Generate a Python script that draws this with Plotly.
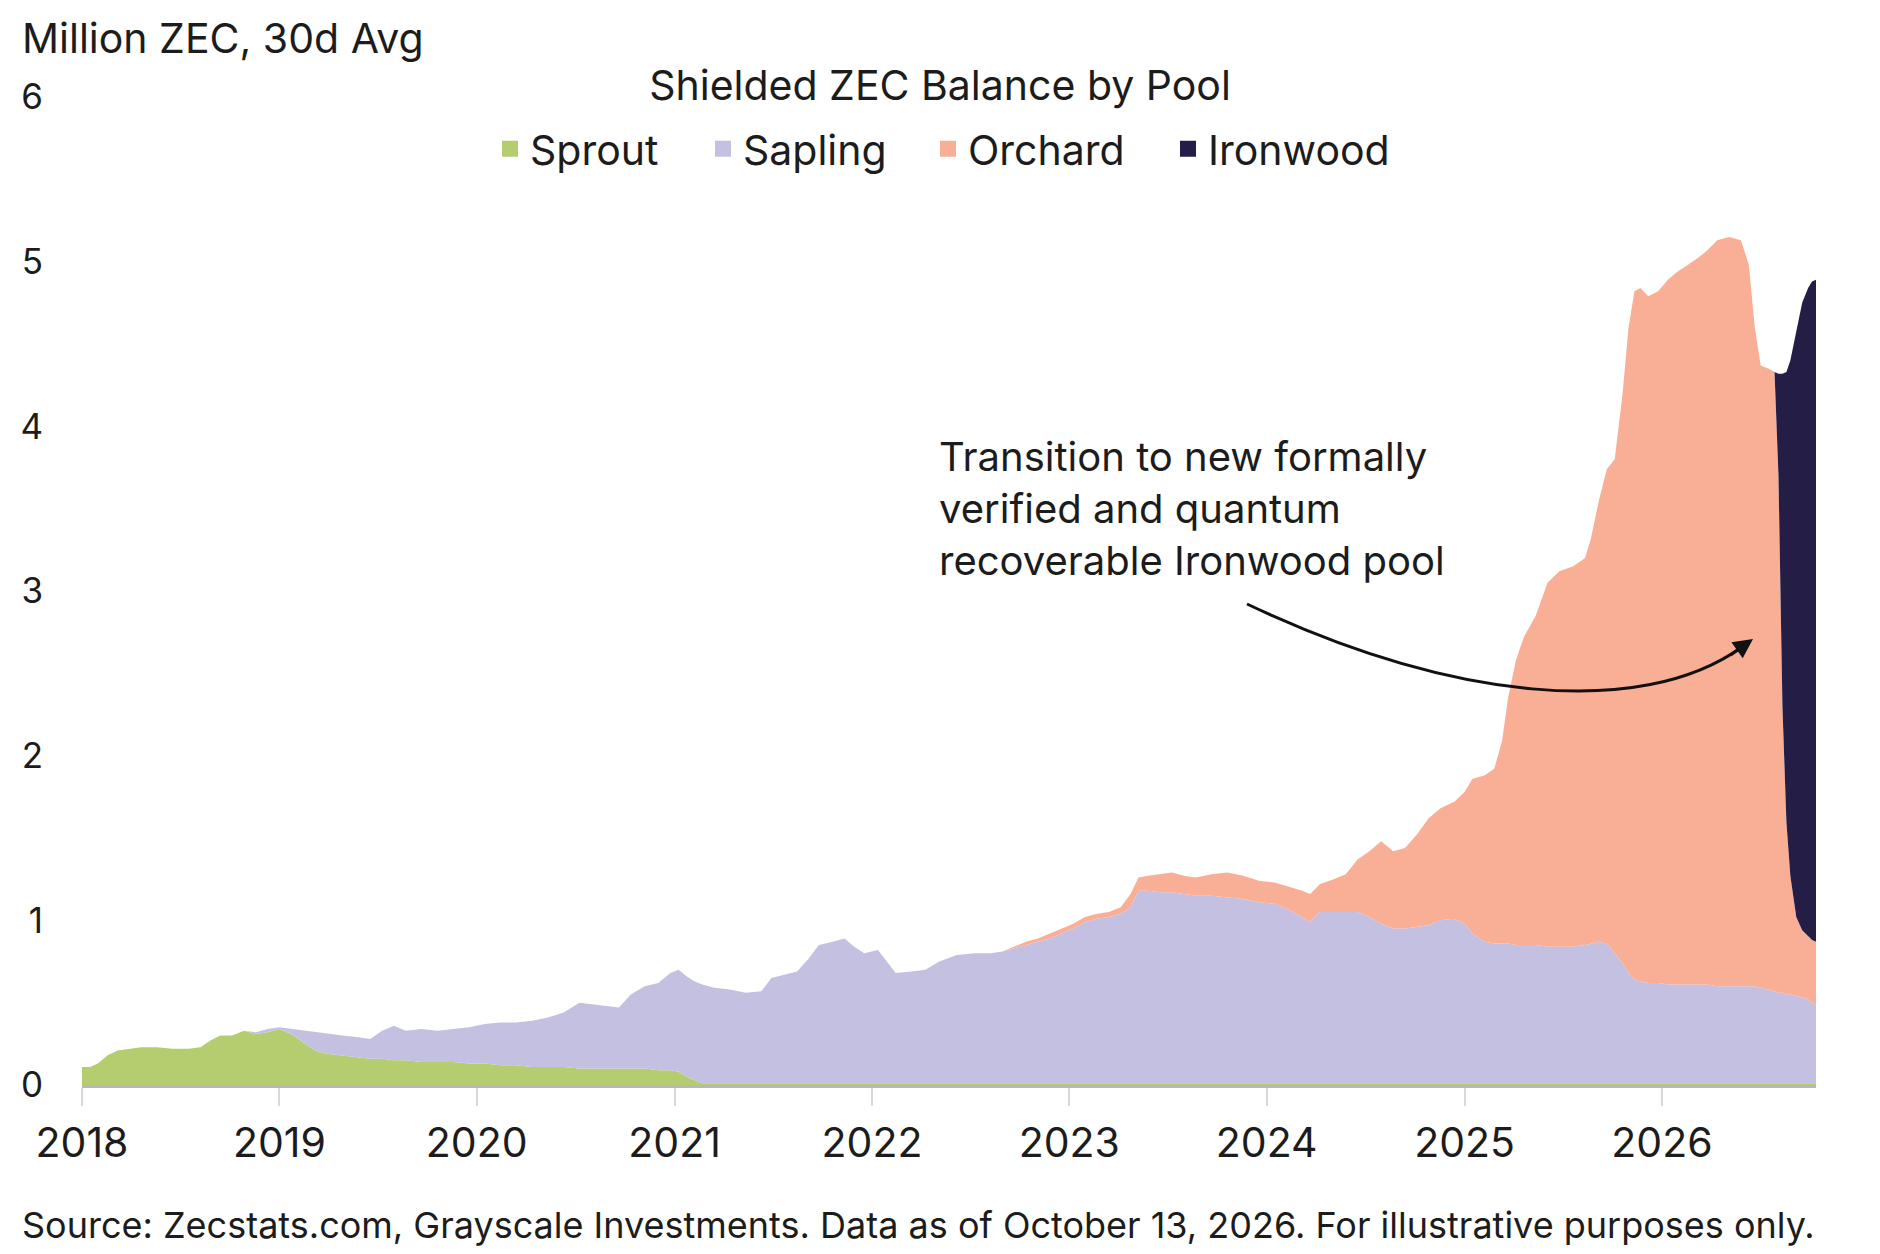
import pandas as pd
import plotly.graph_objects as go

# ---------------- data ----------------
years = [
    2018.00, 2018.04, 2018.08, 2018.13, 2018.18, 2018.23, 2018.30, 2018.38, 2018.46, 2018.54,
    2018.60, 2018.65, 2018.70, 2018.76, 2018.82, 2018.88, 2018.94, 2019.00, 2019.06, 2019.12,
    2019.18, 2019.24, 2019.32, 2019.40, 2019.46, 2019.52, 2019.58, 2019.64, 2019.72, 2019.80,
    2019.88, 2019.96, 2020.04, 2020.12, 2020.20, 2020.28, 2020.36, 2020.44, 2020.52, 2020.58,
    2020.66, 2020.72, 2020.78, 2020.85, 2020.92, 2020.98, 2021.02, 2021.06, 2021.10, 2021.14,
    2021.20, 2021.28, 2021.36, 2021.44, 2021.49, 2021.56, 2021.62, 2021.68, 2021.73, 2021.80,
    2021.86, 2021.91, 2021.96, 2022.03, 2022.07, 2022.12, 2022.20, 2022.27, 2022.34, 2022.43,
    2022.52, 2022.60, 2022.66, 2022.72, 2022.78, 2022.84, 2022.90, 2022.96, 2023.02, 2023.08,
    2023.14, 2023.20, 2023.26, 2023.31, 2023.35, 2023.40, 2023.46, 2023.52, 2023.58, 2023.64,
    2023.72, 2023.80, 2023.88, 2023.96, 2024.04, 2024.12, 2024.18, 2024.22, 2024.27, 2024.34,
    2024.40, 2024.46, 2024.52, 2024.58, 2024.64, 2024.70, 2024.76, 2024.82, 2024.88, 2024.95,
    2025.00, 2025.04, 2025.10, 2025.15, 2025.19, 2025.22, 2025.26, 2025.30, 2025.36, 2025.42,
    2025.48, 2025.55, 2025.61, 2025.64, 2025.68, 2025.72, 2025.76, 2025.80, 2025.83, 2025.86,
    2025.89, 2025.93, 2025.98, 2026.03, 2026.08, 2026.13, 2026.18, 2026.23, 2026.28, 2026.34,
    2026.40, 2026.44, 2026.47, 2026.50, 2026.54, 2026.57, 2026.59, 2026.61, 2026.63, 2026.65,
    2026.68, 2026.71, 2026.74, 2026.76, 2026.78,
]

sprout = [
    0.11, 0.11, 0.13, 0.18, 0.21, 0.22, 0.23, 0.23, 0.22, 0.22,
    0.23, 0.27, 0.30, 0.30, 0.33, 0.31, 0.32, 0.34, 0.31, 0.26,
    0.21, 0.19, 0.18, 0.17, 0.16, 0.16, 0.15, 0.15, 0.14, 0.14,
    0.14, 0.13, 0.13, 0.12, 0.12, 0.11, 0.11, 0.11, 0.10, 0.10,
    0.10, 0.10, 0.10, 0.10, 0.09, 0.09, 0.08, 0.05, 0.03, 0.01,
    0.01, 0.01, 0.01, 0.01, 0.01, 0.01, 0.01, 0.01, 0.01, 0.01,
    0.01, 0.01, 0.01, 0.01, 0.01, 0.01, 0.01, 0.01, 0.01, 0.01,
    0.01, 0.01, 0.01, 0.01, 0.01, 0.01, 0.01, 0.01, 0.01, 0.01,
    0.01, 0.01, 0.01, 0.01, 0.01, 0.01, 0.01, 0.01, 0.01, 0.01,
    0.01, 0.01, 0.01, 0.01, 0.01, 0.01, 0.01, 0.01, 0.01, 0.01,
    0.01, 0.01, 0.01, 0.01, 0.01, 0.01, 0.01, 0.01, 0.01, 0.01,
    0.01, 0.01, 0.01, 0.01, 0.01, 0.01, 0.01, 0.01, 0.01, 0.01,
    0.01, 0.01, 0.01, 0.01, 0.01, 0.01, 0.01, 0.01, 0.01, 0.01,
    0.01, 0.01, 0.01, 0.01, 0.01, 0.01, 0.01, 0.01, 0.01, 0.01,
    0.01, 0.01, 0.01, 0.01, 0.01, 0.01, 0.01, 0.01, 0.01, 0.01,
    0.01, 0.01, 0.01, 0.01, 0.01,
]

sapling = [
    0.00, 0.00, 0.00, 0.00, 0.00, 0.00, 0.00, 0.00, 0.00, 0.00,
    0.00, 0.00, 0.00, 0.00, 0.00, 0.01, 0.02, 0.01, 0.03, 0.07,
    0.11, 0.12, 0.12, 0.12, 0.12, 0.17, 0.21, 0.18, 0.20, 0.19,
    0.20, 0.22, 0.24, 0.26, 0.26, 0.28, 0.30, 0.33, 0.40, 0.39,
    0.38, 0.37, 0.45, 0.50, 0.53, 0.59, 0.62, 0.61, 0.60, 0.60,
    0.58, 0.57, 0.55, 0.56, 0.64, 0.66, 0.68, 0.76, 0.84, 0.86,
    0.88, 0.83, 0.79, 0.81, 0.75, 0.67, 0.68, 0.69, 0.74, 0.78,
    0.79, 0.79, 0.80, 0.82, 0.84, 0.86, 0.88, 0.91, 0.94, 0.98,
    1.00, 1.01, 1.03, 1.07, 1.17, 1.17, 1.16, 1.16, 1.15, 1.14,
    1.14, 1.13, 1.12, 1.10, 1.09, 1.05, 1.01, 0.98, 1.04, 1.04,
    1.04, 1.04, 1.01, 0.97, 0.94, 0.94, 0.95, 0.96, 0.99, 1.00,
    0.97, 0.91, 0.86, 0.85, 0.85, 0.85, 0.84, 0.84, 0.84, 0.83,
    0.83, 0.83, 0.84, 0.85, 0.86, 0.85, 0.79, 0.73, 0.67, 0.63,
    0.62, 0.61, 0.61, 0.60, 0.60, 0.60, 0.60, 0.60, 0.59, 0.59,
    0.59, 0.59, 0.59, 0.58, 0.57, 0.56, 0.55, 0.55, 0.54, 0.54,
    0.53, 0.52, 0.51, 0.49, 0.48,
]

orchard = [
    0.00, 0.00, 0.00, 0.00, 0.00, 0.00, 0.00, 0.00, 0.00, 0.00,
    0.00, 0.00, 0.00, 0.00, 0.00, 0.00, 0.00, 0.00, 0.00, 0.00,
    0.00, 0.00, 0.00, 0.00, 0.00, 0.00, 0.00, 0.00, 0.00, 0.00,
    0.00, 0.00, 0.00, 0.00, 0.00, 0.00, 0.00, 0.00, 0.00, 0.00,
    0.00, 0.00, 0.00, 0.00, 0.00, 0.00, 0.00, 0.00, 0.00, 0.00,
    0.00, 0.00, 0.00, 0.00, 0.00, 0.00, 0.00, 0.00, 0.00, 0.00,
    0.00, 0.00, 0.00, 0.00, 0.00, 0.00, 0.00, 0.00, 0.00, 0.00,
    0.00, 0.00, 0.00, 0.01, 0.02, 0.02, 0.03, 0.03, 0.03, 0.03,
    0.03, 0.03, 0.04, 0.08, 0.08, 0.09, 0.11, 0.12, 0.11, 0.11,
    0.13, 0.15, 0.14, 0.13, 0.13, 0.14, 0.16, 0.17, 0.17, 0.20,
    0.23, 0.32, 0.40, 0.50, 0.47, 0.49, 0.56, 0.65, 0.68, 0.71,
    0.80, 0.94, 1.01, 1.06, 1.23, 1.49, 1.73, 1.87, 2.00, 2.21,
    2.28, 2.31, 2.35, 2.46, 2.68, 2.88, 3.00, 3.46, 3.92, 4.18,
    4.21, 4.17, 4.20, 4.28, 4.33, 4.37, 4.41, 4.46, 4.53, 4.55,
    4.53, 4.38, 4.00, 3.78, 3.77, 3.76, 3.14, 1.74, 1.05, 0.72,
    0.48, 0.41, 0.38, 0.38, 0.38,
]

ironwood = [0.00] * 145 + [
    0.00, 0.62, 2.02, 2.73, 3.13,
    3.56, 3.81, 3.94, 4.00, 4.02,
]

series_names = ["Sprout", "Sapling", "Orchard", "Ironwood"]
tick_years = [2018, 2019, 2020, 2021, 2022, 2023, 2024, 2025, 2026]
y_ticks = [0, 1, 2, 3, 4, 5, 6]

# ---------------- styling ----------------
COLORS = ["#B4CD6E", "#C4C0E1", "#F9AE96", "#241E47"]
FONT = "Inter, 'Open Sans', sans-serif"
TXT = "#1c1c1c"

W, H = 1880, 1254
ML, MR, MT, MB = 82, 64, 97, 169
PW, PH = W - ML - MR, H - MT - MB


def px_x(px):
    return (px - ML) / PW


def px_y(py):
    return (H - MB - py) / PH


def to_date(y):
    yr = int(y)
    return pd.Timestamp(f"{yr}-01-01") + pd.Timedelta(days=(y - yr) * 365.25)


dates = [to_date(y) for y in years]

fig = go.Figure()
for name, vals, col in zip(series_names, [sprout, sapling, orchard, ironwood], COLORS):
    fig.add_trace(go.Scatter(
        x=dates, y=vals, name=name, mode="lines",
        stackgroup="pools", line=dict(width=0, color=col),
        fillcolor=col, showlegend=False,
    ))

# legend entries (one small legend per pool so each sits where the reference puts it)
legend_text_starts = [530, 743, 968, 1208]
legend_keys = ["legend", "legend2", "legend3", "legend4"]
for name, col, key in zip(series_names, COLORS, legend_keys):
    fig.add_trace(go.Scatter(
        x=[None], y=[None], mode="markers", name=name,
        marker=dict(symbol="square", size=16, color=col),
        showlegend=True, legend=key,
    ))

legend_layouts = {}
for key, tx in zip(legend_keys, legend_text_starts):
    legend_layouts[key] = dict(
        x=px_x(tx - 40), xanchor="left", y=px_y(149), yanchor="middle",
        orientation="h", bgcolor="rgba(0,0,0,0)", borderwidth=0,
        font=dict(family=FONT, size=41, color=TXT),
        itemclick=False, itemdoubleclick=False,
    )

fig.update_layout(
    width=W, height=H,
    margin=dict(l=ML, r=MR, t=MT, b=MB, pad=0),
    paper_bgcolor="white", plot_bgcolor="white",
    font=dict(family=FONT, color=TXT),
    title=dict(text="Shielded ZEC Balance by Pool", x=0.5, xanchor="center",
               y=1 - 86 / H, yanchor="middle", font=dict(size=41, color=TXT)),
    showlegend=True,
    **legend_layouts,
)

fig.update_xaxes(
    type="date",
    range=[to_date(2018.0), to_date(years[-1])],
    tickvals=[to_date(y) for y in tick_years],
    ticktext=[str(y) for y in tick_years],
    tickfont=dict(size=41, color=TXT),
    ticks="outside", ticklen=18, tickwidth=2, tickcolor="#d8d8d8",
    showline=True, linecolor="#b8b8b8", linewidth=3,
    showgrid=False, zeroline=False,
    ticklabelstandoff=2,
)
fig.update_yaxes(
    range=[0, 6], tickvals=y_ticks, ticktext=[str(v) for v in y_ticks],
    tickfont=dict(size=35, color=TXT),
    showgrid=False, zeroline=False, showline=False,
    ticks="", ticklabelstandoff=38,
)

# axis unit label
fig.add_annotation(text="Million ZEC, 30d Avg", xref="paper", yref="paper",
                   x=px_x(20), y=px_y(38), xanchor="left", yanchor="middle",
                   showarrow=False, font=dict(size=41, color=TXT))
# source
fig.add_annotation(text="Source: Zecstats.com, Grayscale Investments. Data as of October 13, 2026. For illustrative purposes only.",
                   xref="paper", yref="paper", x=px_x(20), y=px_y(1225),
                   xanchor="left", yanchor="middle", showarrow=False,
                   font=dict(size=36, color=TXT))
# callout text
fig.add_annotation(text="Transition to new formally<br>verified and quantum<br>recoverable Ironwood pool",
                   xref="paper", yref="paper", x=px_x(937), y=px_y(430),
                   xanchor="left", yanchor="top", align="left", showarrow=False,
                   font=dict(size=40, color=TXT))

# curved arrow
S, C1, C2, E = (1247, 604), (1450, 700), (1640, 720), (1742, 647)
path = "M {} {} C {} {}, {} {}, {} {}".format(
    px_x(S[0]), px_y(S[1]), px_x(C1[0]), px_y(C1[1]),
    px_x(C2[0]), px_y(C2[1]), px_x(E[0]), px_y(E[1]))
fig.add_shape(type="path", path=path, xref="paper", yref="paper",
              line=dict(color="#111111", width=3))
fig.add_annotation(text="", xref="paper", yref="paper",
                   x=px_x(1753), y=px_y(639), ax=-24, ay=17,
                   showarrow=True, arrowhead=2, arrowsize=1.3,
                   arrowwidth=3, arrowcolor="#111111")

fig.write_html("out.html")
